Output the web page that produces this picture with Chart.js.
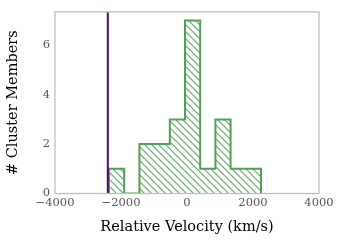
<!DOCTYPE html>
<html>
<head>
<meta charset="utf-8">
<script src="https://cdn.jsdelivr.net/npm/chart.js@4.4.1/dist/chart.umd.min.js"></script>
<style>
  html, body { margin: 0; padding: 0; background: #fff; }
  #wrap { width: 342px; height: 241px; }
</style>
</head>
<body>
<div id="wrap"><canvas id="chart-velocity"></canvas></div>
<script>
// histogram bin edges (km/s) and member counts per bin
const binEdges = [-2364, -1903, -1442, -982, -521, -61, 400, 861, 1321, 1782, 2242]
const binCounts = [1, 0, 2, 2, 3, 7, 1, 3, 1, 1]
// reference velocity marker
const markerVelocity = -2400
const xTicks = [-4000, -2000, 0, 2000, 4000]
const yTicks = [0, 2, 4, 6]

const green = "#50a055"
const purple = "#4b0c6e"

const makeHatch = () => {
    const size = 7
    const c = document.createElement("canvas")
    c.width = size
    c.height = size
    const g = c.getContext("2d")
    g.strokeStyle = "rgba(80,160,85,0.9)"
    g.lineWidth = 1.1
    g.beginPath()
    g.moveTo(-1, -1)
    g.lineTo(size + 1, size + 1)
    g.moveTo(-1, size - 1)
    g.lineTo(1, size + 1)
    g.moveTo(size - 1, -1)
    g.lineTo(size + 1, 1)
    g.stroke()
    return g.createPattern(c, "repeat")
}

// step outline: vertical first, then horizontal
const stepPoints = binCounts.map((count, i) => ({ x: binEdges[i + 1], y: count }))
stepPoints.unshift({ x: binEdges[0], y: 0 })
stepPoints.push({ x: binEdges[binEdges.length - 1], y: 0 })

const yMax = Math.max(...binCounts) * 1.05

const frame = {
    id: "frame",
    afterDraw(chart) {
        const { ctx, chartArea: a } = chart
        ctx.save()
        ctx.strokeStyle = "#bdbdbd"
        ctx.lineWidth = 1.25
        ctx.strokeRect(a.left, a.top, a.right - a.left, a.bottom - a.top)
        ctx.restore()
    }
}

const minus = (v) => String(v).replace("-", "\u2212")

new Chart(document.getElementById("chart-velocity"), {
    type: "line",
    data: {
        datasets: [{
            data: stepPoints,
            stepped: "after",
            borderColor: green,
            borderWidth: 2,
            backgroundColor: makeHatch(),
            fill: "origin",
            pointRadius: 0,
            order: 2
        }, {
            data: [{ x: markerVelocity, y: 0 }, { x: markerVelocity, y: yMax }],
            borderColor: purple,
            borderWidth: 2,
            pointRadius: 0,
            fill: false,
            order: 1
        }]
    },
    plugins: [frame],
    options: {
        responsive: true,
        maintainAspectRatio: false,
        animation: false,
        layout: { padding: { left: 5, right: 23, top: 6, bottom: 5 } },
        plugins: {
            legend: { display: false },
            tooltip: { enabled: false }
        },
        scales: {
            x: {
                type: "linear",
                min: xTicks[0],
                max: xTicks[xTicks.length - 1],
                grid: { display: false, drawTicks: false },
                border: { display: false },
                afterBuildTicks: (scale) => { scale.ticks = xTicks.map((v) => ({ value: v })) },
                afterFit: (scale) => { scale.height = 42.5 },
                ticks: {
                    padding: 3,
                    maxRotation: 0,
                    color: "#555",
                    font: { family: "DejaVu Serif", size: 11.5 },
                    callback: (v) => minus(v)
                },
                title: {
                    display: true,
                    text: "Relative Velocity (km/s)",
                    color: "#000",
                    font: { family: "DejaVu Serif", size: 14.5 },
                    padding: { top: 2, bottom: 0 }
                }
            },
            y: {
                min: 0,
                max: yMax,
                grid: { display: false, drawTicks: false },
                border: { display: false },
                afterBuildTicks: (scale) => { scale.ticks = yTicks.map((v) => ({ value: v })) },
                afterFit: (scale) => { scale.width = 50 },
                ticks: {
                    padding: 5,
                    color: "#555",
                    font: { family: "DejaVu Serif", size: 11.5 }
                },
                title: {
                    display: true,
                    text: "# Cluster Members",
                    color: "#000",
                    font: { family: "DejaVu Serif", size: 14.5 },
                    padding: { top: 0, bottom: 4 }
                }
            }
        }
    }
})
</script>
</body>
</html>
